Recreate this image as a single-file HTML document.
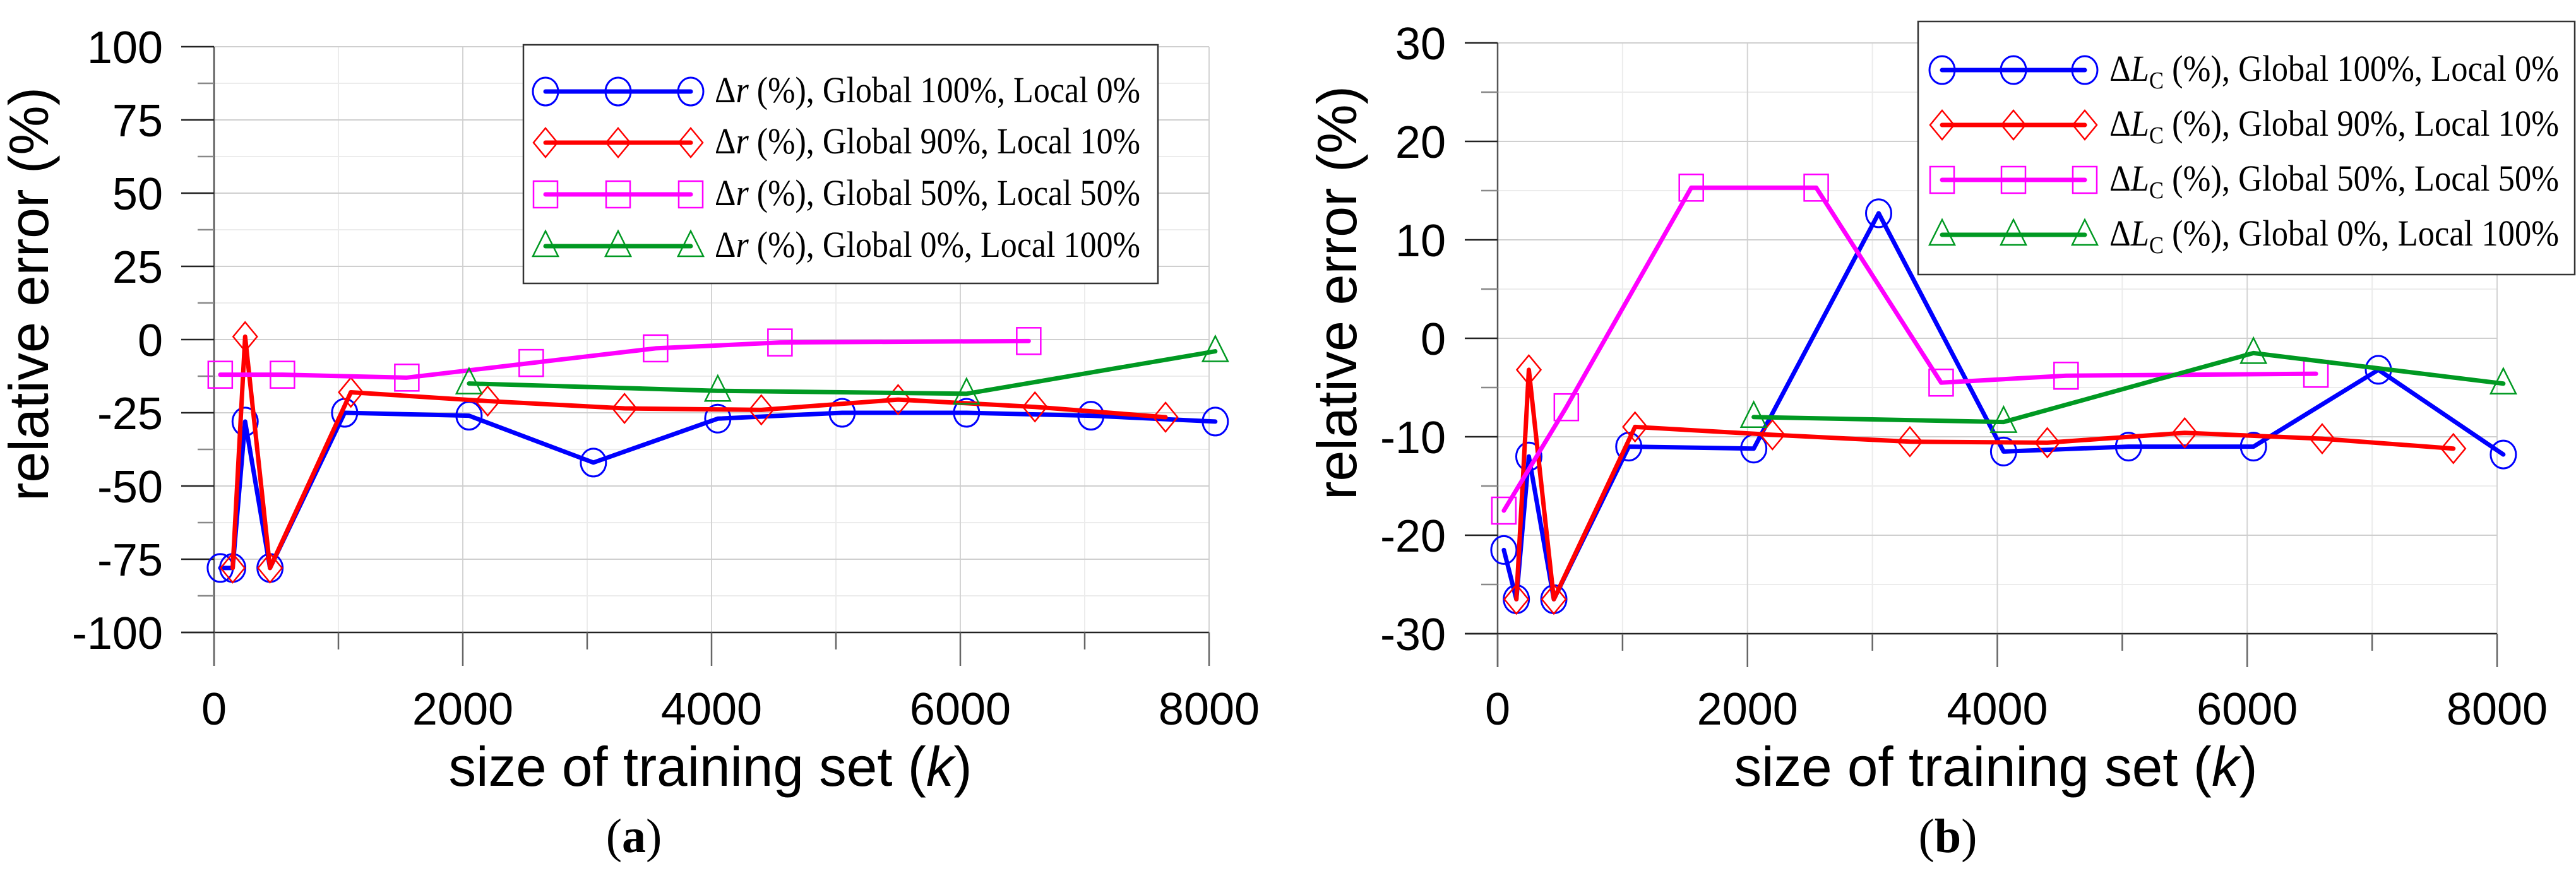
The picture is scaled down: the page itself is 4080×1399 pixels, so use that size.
<!DOCTYPE html>
<html><head><meta charset="utf-8"><style>
html,body{margin:0;padding:0;background:#fff;}
svg{display:block;}
</style></head><body>
<svg id="fig" xmlns="http://www.w3.org/2000/svg" width="4080" height="1399" viewBox="0 0 4080 1399"></svg>
<script>
// ---- Panel (a) data ----
const aBlueX=[50,150,250,450,1050,2050,3050,4050,5050,6050,7050,8050];
const aBlueY=[-78,-78,-28,-78,-25,-26,-42,-27,-25,-25,-26,-28];
const aRedX=[150,250,450,1100,2200,3300,4400,5500,6600,7650];
const aRedY=[-78,1,-78,-18,-21,-23.5,-24,-20.5,-23,-26.5];
const aMagX=[50,550,1550,2550,3550,4550,6550];
const aMagY=[-12,-12,-13,-8,-3,-1,-0.5];
const aGrnX=[2050,4050,6050,8050];
const aGrnY=[-15,-17.5,-18.5,-4];
const aYTicks=[100,75,50,25,0,-25,-50,-75,-100];
// ---- Panel (b) data ----
const bBlueX=[50,150,250,450,1050,2050,3050,4050,5050,6050,7050,8050];
const bBlueY=[-21.5,-26.5,-12,-26.5,-11,-11.2,12.7,-11.5,-11,-11,-3.2,-11.8];
const bRedX=[150,250,450,1100,2200,3300,4400,5500,6600,7650];
const bRedY=[-26.5,-3.2,-26.5,-9,-9.8,-10.5,-10.6,-9.6,-10.2,-11.2];
const bMagX=[50,550,1550,2550,3550,4550,6550];
const bMagY=[-17.5,-7,15.3,15.3,-4.5,-3.8,-3.6];
const bGrnX=[2050,4050,6050,8050];
const bGrnY=[-8,-8.5,-1.5,-4.6];
const bYTicks=[30,20,10,0,-10,-20,-30];
const xTicks=[0,2000,4000,6000,8000];

const NS='http://www.w3.org/2000/svg';
const svg=document.getElementById('fig');
function mk(tag,attrs,parent){const e=document.createElementNS(NS,tag);for(const k in attrs)e.setAttribute(k,attrs[k]);(parent||svg).appendChild(e);return e;}

function marker(g,type,x,y,color){
  let e;
  if(type==='circle'){e=mk('ellipse',{cx:x,cy:y,rx:20,ry:22,fill:'none',stroke:color,'stroke-width':3},g);}
  else if(type==='diamond'){e=mk('polygon',{points:`${x},${y-23} ${x+19},${y} ${x},${y+23} ${x-19},${y}`,fill:'none',stroke:color,'stroke-width':2.5},g);}
  else if(type==='square'){e=mk('rect',{x:x-19,y:y-21,width:38,height:42,fill:'none',stroke:color,'stroke-width':2.5},g);}
  else {e=mk('polygon',{points:`${x},${y-24} ${x+20},${y+16} ${x-20},${y+16}`,fill:'none',stroke:color,'stroke-width':2.5},g);}
  
  
}

function panel(p){
  const g=mk('g',{});
  
  
  const xs=v=>p.x0+(v-0)/8000*(p.x1-p.x0);
  const ys=v=>p.y0+(p.ymax-v)/(p.ymax-p.ymin)*(p.y1-p.y0);
  for(let v=1000;v<8000;v+=2000){const l=mk('line',{x1:xs(v),x2:xs(v),y1:p.y0,y2:p.y1,stroke:'#ececec','stroke-width':2},g);}
  for(let v=p.ymin+p.minor;v<p.ymax;v+=p.major){const l=mk('line',{x1:p.x0,x2:p.x1,y1:ys(v),y2:ys(v),stroke:'#ececec','stroke-width':2},g);}
  xTicks.forEach(v=>{if(v>0){const l=mk('line',{x1:xs(v),x2:xs(v),y1:p.y0,y2:p.y1,stroke:'#d4d4d4','stroke-width':2},g);}});
  p.yt.forEach(v=>{const l=mk('line',{x1:p.x0,x2:p.x1,y1:ys(v),y2:ys(v),stroke:'#cfcfcf','stroke-width':2},g);});
  const ax=mk('line',{x1:p.x0,x2:p.x0,y1:p.y0,y2:p.y1+53,stroke:'#555','stroke-width':2.5},g);
  
  const bx=mk('line',{x1:p.x0-52,x2:p.x1,y1:p.y1,y2:p.y1,stroke:'#222','stroke-width':2.5},g);
  
  for(let v=0;v<=8000;v+=1000){const l=mk('line',{x1:xs(v),x2:xs(v),y1:p.y1,y2:p.y1+(v%2000===0?53:27),stroke:'#666','stroke-width':2.5},g);}
  xTicks.forEach(v=>{const t=mk('text',{x:xs(v),y:1148,'font-family':'Liberation Sans, sans-serif','font-size':72,'text-anchor':'middle',fill:'#000'},g);t.textContent=String(v);});
  for(let v=p.ymin;v<=p.ymax;v+=p.minor){const maj=p.yt.indexOf(v)>=0;const l=mk('line',{x1:p.x0-(maj?52:26),x2:p.x0,y1:ys(v),y2:ys(v),stroke:maj?'#222':'#888','stroke-width':2.5},g);}
  p.yt.forEach(v=>{const t=mk('text',{x:p.lx,y:ys(v)+26,'font-family':'Liberation Sans, sans-serif','font-size':72,'text-anchor':'end',fill:'#000'},g);t.textContent=(v<0?'-':'')+Math.abs(v);});
  p.series.forEach(s=>{
    const sg=mk('g',{},g);
    
    
    const pts=s.x.map((v,i)=>xs(v)+','+ys(s.y[i])).join(' ');
    const pl=mk('polyline',{points:pts,fill:'none',stroke:s.color,'stroke-width':7,'stroke-linejoin':'round','stroke-linecap':'round'},sg);
    
    s.x.forEach((v,i)=>marker(sg,s.m,xs(v),ys(s.y[i]),s.mc||s.color));
  });
  const yt=mk('text',{x:0,y:0,transform:`translate(${p.ytx},${p.yty}) rotate(-90)`,'font-family':'Liberation Sans, sans-serif','font-size':88,'text-anchor':'middle',fill:'#000',textLength:656,lengthAdjust:'spacingAndGlyphs'},g);
  yt.textContent='relative error  (%)';
  const xt=mk('text',{x:p.xtx,y:1245,'font-family':'Liberation Sans, sans-serif','font-size':88,'text-anchor':'middle',fill:'#000',textLength:829,lengthAdjust:'spacingAndGlyphs'},g);
  xt.innerHTML='size of training set (<tspan font-style="italic">k</tspan>)';
  
  const pl=mk('text',{x:p.plx,y:1350,'font-family':'Liberation Serif, serif','font-size':76,'text-anchor':'middle',fill:'#000'},g);
  pl.innerHTML='(<tspan font-weight="bold">'+p.id+'</tspan>)';
  
  const lg=mk('g',{},g);
  
  mk('rect',{x:p.lg.x,y:p.lg.y,width:p.lg.w,height:p.lg.h,fill:'#fff',stroke:'#333','stroke-width':2.5},lg);
  p.series.forEach((s,i)=>{
    const eg=mk('g',{},lg);
    
    const y=p.lg.rows[i];
    mk('line',{x1:p.lg.l0,x2:p.lg.l1,y1:y,y2:y,stroke:s.color,'stroke-width':7,'stroke-linecap':'round'},eg);
    [p.lg.l0,(p.lg.l0+p.lg.l1)/2,p.lg.l1].forEach(x=>marker(eg,s.m,x,y,s.mc||s.color));
    const t=mk('text',{x:p.lg.tx,y:y+17,'font-family':'Liberation Serif, serif','font-size':58,fill:'#000',textLength:p.lg.tw,lengthAdjust:'spacingAndGlyphs'},eg);
    t.innerHTML=p.sym+' (%), '+s.label;
    
  });
}

const labels=['Global 100%, Local 0%','Global 90%, Local 10%','Global 50%, Local 50%','Global 0%, Local 100%'];
panel({id:'a',x0:339,x1:1915,y0:74,y1:1002,ymin:-100,ymax:100,major:25,minor:12.5,yt:aYTicks,lx:258,ytx:76,yty:466,xtx:1125,plx:1004,
  sym:'Δ<tspan font-style="italic">r</tspan>',
  lg:{x:829,y:71,w:1005,h:378,rows:[145,226,308,390],l0:864,l1:1094,tx:1132,tw:674},
  series:[
    {name:'global100',x:aBlueX,y:aBlueY,color:'#0000ff',m:'circle',label:labels[0]},
    {name:'global90',x:aRedX,y:aRedY,color:'#ff0000',m:'diamond',label:labels[1]},
    {name:'global50',x:aMagX,y:aMagY,color:'#ff00ff',m:'square',label:labels[2]},
    {name:'global0',x:aGrnX,y:aGrnY,color:'#009922',m:'triangle',label:labels[3]}
  ]});
panel({id:'b',x0:2372,x1:3955,y0:68,y1:1004,ymin:-30,ymax:30,major:10,minor:5,yt:bYTicks,lx:2290,ytx:2148,yty:464,xtx:3161,plx:3085,
  sym:'Δ<tspan font-style="italic">L</tspan><tspan font-size="38" dy="12">C</tspan><tspan dy="-12"> </tspan>',
  lg:{x:3038,y:34,w:1040,h:401,rows:[111,198,285,372],l0:3076,l1:3302,tx:3341,tw:712},
  series:[
    {name:'global100',x:bBlueX,y:bBlueY,color:'#0000ff',m:'circle',label:labels[0]},
    {name:'global90',x:bRedX,y:bRedY,color:'#ff0000',m:'diamond',label:labels[1]},
    {name:'global50',x:bMagX,y:bMagY,color:'#ff00ff',m:'square',label:labels[2]},
    {name:'global0',x:bGrnX,y:bGrnY,color:'#009922',m:'triangle',label:labels[3]}
  ]});
</script>
</body></html>
